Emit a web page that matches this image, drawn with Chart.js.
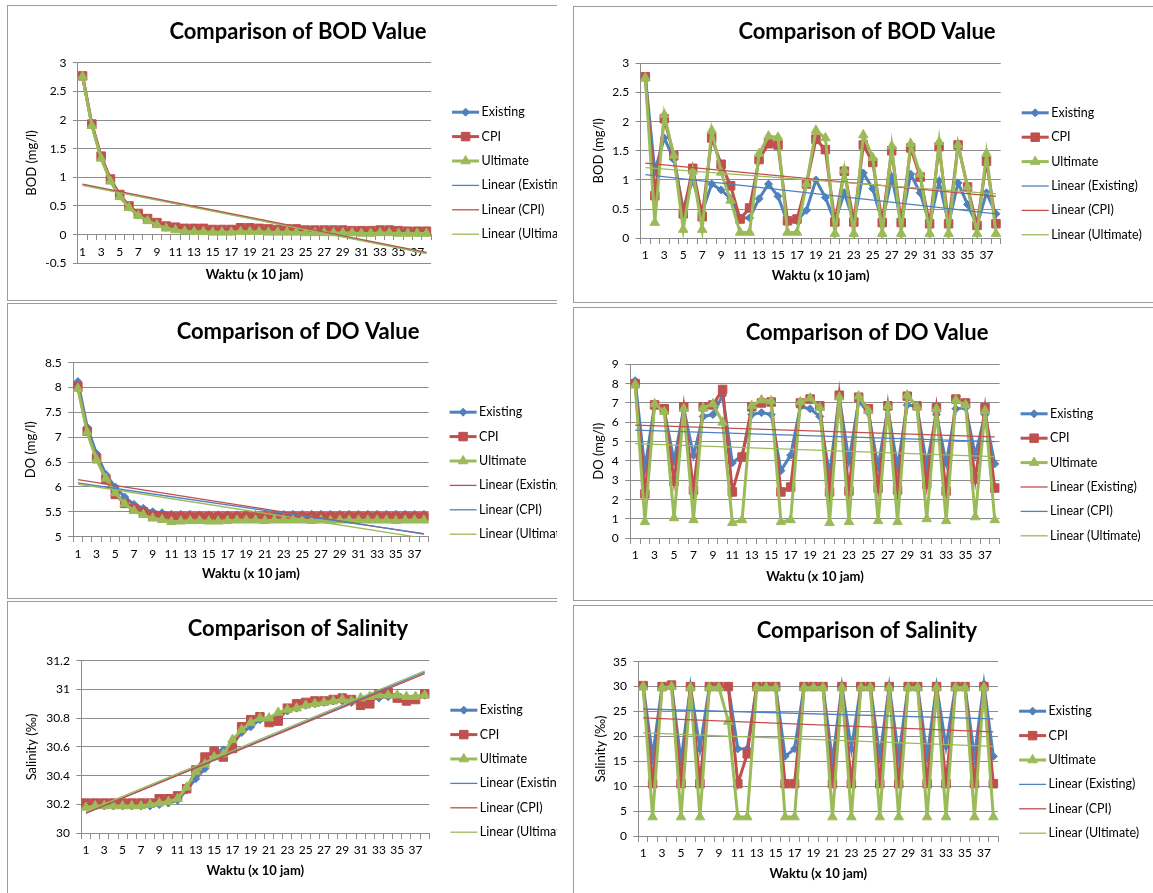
<!DOCTYPE html>
<html lang="en">
<head>
<meta charset="UTF-8">
<title>Comparison of BOD, DO and Salinity</title>
<script src="https://cdn.jsdelivr.net/npm/chart.js"></script>
<style>
  html, body { margin: 0; padding: 0; background: #fff; width: 1153px; height: 893px; overflow: hidden; }
  .panel { position: absolute; overflow: hidden; border: 1px solid #9c9c9c; border-right: none; }
  .panel canvas { position: absolute; left: 0; top: 0; }
  #p1 { left: 7px; top: 5px; width: 549px; height: 294px; }
  #p2 { left: 573px; top: 6px; width: 579px; height: 295px; }
  #p3 { left: 7px; top: 303px; width: 549px; height: 294px; }
  #p4 { left: 573px; top: 307px; width: 579px; height: 292px; }
  #p5 { left: 7px; top: 601px; width: 549px; height: 291px; border-bottom: none; }
  #p6 { left: 573px; top: 605px; width: 579px; height: 287px; border-bottom: none; }
</style>
</head>
<body>
  <div class="panel" id="p1"><canvas id="c1"></canvas></div>
  <div class="panel" id="p2"><canvas id="c2"></canvas></div>
  <div class="panel" id="p3"><canvas id="c3"></canvas></div>
  <div class="panel" id="p4"><canvas id="c4"></canvas></div>
  <div class="panel" id="p5"><canvas id="c5"></canvas></div>
  <div class="panel" id="p6"><canvas id="c6"></canvas></div>

<script>
// time steps (x 10 jam)
const waktu = ['1','2','3','4','5','6','7','8','9','10','11','12','13','14','15','16','17','18','19',
  '20','21','22','23','24','25','26','27','28','29','30','31','32','33','34','35','36','37','38'];

// BOD, left chart
const bodAExisting = [2.77,1.92,1.35,0.95,0.68,0.48,0.35,0.26,0.19,0.13,0.10,0.08,0.07,0.07,0.06,0.06,0.06,0.07,0.07,0.07,0.06,0.06,0.06,0.06,0.05,0.05,0.05,0.05,0.05,0.05,0.04,0.04,0.05,0.05,0.04,0.04,0.04,0.04];
const bodACPI = [2.77,1.93,1.37,0.97,0.70,0.50,0.37,0.28,0.21,0.15,0.13,0.11,0.11,0.11,0.09,0.09,0.09,0.12,0.12,0.11,0.10,0.09,0.10,0.10,0.08,0.08,0.08,0.08,0.08,0.07,0.07,0.07,0.08,0.08,0.07,0.06,0.06,0.06];
const bodAUltimate = [2.76,1.90,1.33,0.93,0.66,0.47,0.33,0.24,0.17,0.11,0.08,0.06,0.05,0.05,0.04,0.04,0.04,0.05,0.05,0.05,0.04,0.04,0.04,0.04,0.03,0.03,0.03,0.03,0.03,0.03,0.02,0.02,0.03,0.03,0.02,0.02,0.02,0.02];
const bodATrendExisting = [0.87, -0.32];
const bodATrendCPI = [0.88, -0.31];
const bodATrendUltimate = [0.86, -0.33];

// BOD, right chart
const bodBExisting = [2.77,1.15,1.72,1.35,0.50,1.00,0.45,0.93,0.83,0.68,0.35,0.35,0.68,0.93,0.72,0.27,0.30,0.48,1.00,0.70,0.28,0.78,0.28,1.12,0.85,0.28,1.05,0.27,1.10,0.78,0.25,0.98,0.25,0.95,0.58,0.22,0.78,0.42];
const bodBCPI = [2.77,0.73,2.05,1.42,0.42,1.20,0.37,1.72,1.27,0.90,0.33,0.52,1.35,1.62,1.60,0.30,0.33,0.93,1.70,1.52,0.28,1.15,0.28,1.60,1.30,0.27,1.50,0.27,1.55,1.05,0.25,1.57,0.25,1.60,0.88,0.22,1.32,0.25];
const bodBUltimate = [2.75,0.27,2.12,1.42,0.15,1.15,0.15,1.85,1.13,0.65,0.10,0.10,1.45,1.75,1.73,0.10,0.10,0.93,1.85,1.72,0.08,1.17,0.08,1.77,1.38,0.08,1.58,0.08,1.62,1.10,0.08,1.65,0.08,1.60,0.88,0.08,1.45,0.08];
const bodBTrendExisting = [1.09, 0.42];
const bodBTrendCPI = [1.29, 0.72];
const bodBTrendUltimate = [1.21, 0.76];

// DO, left chart
const doAExisting = [8.12,7.20,6.67,6.25,6.00,5.80,5.65,5.57,5.50,5.48,5.45,5.45,5.45,5.44,5.44,5.44,5.44,5.44,5.45,5.45,5.45,5.45,5.45,5.45,5.45,5.45,5.45,5.45,5.45,5.45,5.45,5.45,5.45,5.45,5.45,5.45,5.45,5.45];
const doACPI = [8.02,7.12,6.57,6.15,5.85,5.67,5.57,5.50,5.43,5.42,5.40,5.40,5.40,5.40,5.40,5.40,5.40,5.40,5.40,5.40,5.40,5.40,5.40,5.40,5.40,5.40,5.40,5.40,5.40,5.40,5.40,5.40,5.40,5.40,5.40,5.40,5.40,5.40];
const doAUltimate = [7.98,7.10,6.55,6.17,5.88,5.66,5.52,5.44,5.37,5.34,5.30,5.31,5.32,5.32,5.31,5.31,5.32,5.33,5.33,5.33,5.32,5.33,5.33,5.33,5.33,5.32,5.33,5.32,5.33,5.33,5.33,5.33,5.33,5.33,5.32,5.33,5.33,5.33];
const doATrendExisting = [6.15, 5.05];
const doATrendCPI = [6.08, 5.06];
const doATrendUltimate = [6.06, 4.97];

// DO, right chart
const doBExisting = [8.15,3.6,6.9,6.6,4.0,6.7,4.3,6.3,6.4,7.4,3.9,4.3,6.4,6.5,6.4,3.5,4.3,6.8,6.7,6.3,3.3,7.3,4.0,7.1,6.5,3.7,6.7,3.7,6.9,6.8,3.8,6.4,3.9,6.7,6.75,4.3,6.4,3.85];
const doBCPI = [8.0,2.3,6.9,6.7,2.95,6.8,2.5,6.8,6.9,7.7,2.4,4.2,6.8,7.0,7.05,2.4,2.65,7.0,7.2,6.85,2.4,7.4,2.45,7.3,6.7,2.6,6.85,2.5,7.35,6.85,2.8,6.75,2.45,7.2,7.0,3.05,6.75,2.6];
const doBUltimate = [7.95,0.85,6.95,6.55,1.05,6.7,0.95,6.75,6.95,6.0,0.8,0.95,6.85,7.15,7.1,0.85,0.95,7.05,7.25,6.75,0.8,7.3,0.85,7.35,6.6,0.9,6.85,0.85,7.4,6.8,1.0,6.7,0.9,7.15,6.9,1.1,6.6,0.95];
const doBTrendExisting = [5.85, 5.25];
const doBTrendCPI = [5.6, 5.0];
const doBTrendUltimate = [4.9, 4.22];

// Salinity, left chart
const salAExisting = [30.19,30.19,30.19,30.19,30.19,30.19,30.19,30.19,30.20,30.21,30.23,30.30,30.38,30.45,30.55,30.58,30.62,30.70,30.74,30.79,30.80,30.82,30.85,30.87,30.89,30.90,30.91,30.92,30.92,30.91,30.93,30.94,30.94,30.95,30.95,30.95,30.95,30.96];
const salACPI = [30.21,30.21,30.21,30.21,30.21,30.21,30.21,30.21,30.24,30.24,30.26,30.31,30.44,30.53,30.57,30.53,30.59,30.74,30.79,30.81,30.77,30.78,30.87,30.90,30.91,30.92,30.92,30.93,30.94,30.93,30.89,30.90,30.97,30.98,30.94,30.92,30.93,30.97];
const salAUltimate = [30.18,30.19,30.19,30.19,30.19,30.19,30.19,30.20,30.21,30.22,30.24,30.32,30.43,30.48,30.53,30.55,30.65,30.72,30.77,30.80,30.80,30.84,30.86,30.87,30.89,30.90,30.91,30.92,30.93,30.92,30.94,30.95,30.96,30.96,30.96,30.95,30.95,30.96];
const salATrendExisting = [30.14, 31.12];
const salATrendCPI = [30.14, 31.11];
const salATrendUltimate = [30.15, 31.13];

// Salinity, right chart
const salBExisting = [30.2,16,30,30.3,15,30,17.5,30,30,30,17.5,17.5,30,30,30,16,17.5,30,30,30,15,30,17.5,30,30,16,30,16,30,30,16,30,18,30,30,16,30.5,16];
const salBCPI = [30.2,10.5,30,30.3,10.5,30,10.5,30,30,30,10.5,16.5,30,30,30,10.5,10.5,30,30,30,10.5,30,10.5,30,30,10.5,30,10.5,30,30,10.5,30,10.5,30,30,10.5,30,10.5];
const salBUltimate = [30,3.8,29.8,30,3.8,29.8,3.8,29.8,29.8,23,3.8,3.8,29.8,29.8,29.8,3.8,3.8,29.8,29.8,29.8,3.8,29.8,3.8,29.8,29.8,3.8,29.8,3.8,29.8,29.8,3.8,29.8,3.8,29.8,29.8,3.8,29.8,3.8];
const salBTrendExisting = [25.5, 23.5];
const salBTrendCPI = [23.7, 20.9];
const salBTrendUltimate = [20.7, 18.0];

const BLUE = '#4F81BD', RED = '#C0504D', GREEN = '#9BBB59';
const GRID = '#8c8c8c';
const FONT = 'Lato, "Open Sans", sans-serif';

// lay: canvas size, plot area left, right/bottom space, title paddings, axis title paddings
const panels = [
  { id: 'c1', title: 'Comparison of BOD Value', yTitle: 'BOD (mg/l)', min: -0.5, max: 3, step: 0.5, axisAt: 0,
    series: [bodAExisting, bodACPI, bodAUltimate],
    trends: [[bodATrendExisting, BLUE], [bodATrendCPI, RED], [bodATrendUltimate, GREEN]],
    lay: { w: 580, h: 294, left: 69.9, padR: 156.9, padB: 36.7, tTop: 13.1, tBot: 17.2, yPad: 16.3, xPad: 2.8 } },
  { id: 'c2', title: 'Comparison of BOD Value', yTitle: 'BOD (mg/l)', min: 0, max: 3, step: 0.5, axisAt: 0,
    series: [bodBExisting, bodBCPI, bodBUltimate],
    trends: [[bodBTrendExisting, BLUE], [bodBTrendCPI, RED], [bodBTrendUltimate, GREEN]],
    lay: { w: 586, h: 295, left: 66.6, padR: 159.3, padB: 63.7, tTop: 12.1, tBot: 17.8, yPad: 17.2, xPad: 0.5 } },
  { id: 'c3', title: 'Comparison of DO Value', yTitle: 'DO (mg/l)', min: 5, max: 8.5, step: 0.5, axisAt: 5,
    series: [doAExisting, doACPI, doAUltimate],
    trends: [[doATrendExisting, RED], [doATrendCPI, BLUE], [doATrendUltimate, GREEN]],
    lay: { w: 580, h: 294, left: 65.2, padR: 159.4, padB: 61.3, tTop: 14.5, tBot: 17.8, yPad: 14.6, xPad: 0 } },
  { id: 'c4', title: 'Comparison of DO Value', yTitle: 'DO (mg/l)', min: 0, max: 9, step: 1, axisAt: 0,
    series: [doBExisting, doBCPI, doBUltimate],
    trends: [[doBTrendExisting, RED], [doBTrendCPI, BLUE], [doBTrendUltimate, GREEN]],
    lay: { w: 586, h: 292, left: 56.3, padR: 160.4, padB: 61.7, tTop: 12.1, tBot: 17.8, yPad: 17.2, xPad: 1.2 } },
  { id: 'c5', title: 'Comparison of Salinity', yTitle: 'Salinity (‰)', min: 30, max: 31.2, step: 0.2, axisAt: 30,
    series: [salAExisting, salACPI, salAUltimate],
    trends: [[salATrendExisting, BLUE], [salATrendCPI, RED], [salATrendUltimate, GREEN]],
    lay: { w: 580, h: 291, left: 73.4, padR: 158.7, padB: 59.7, tTop: 14.1, tBot: 18.2, yPad: 16.3, xPad: 0.2 } },
  { id: 'c6', title: 'Comparison of Salinity', yTitle: 'Salinity (‰)', min: 0, max: 35, step: 5, axisAt: 0,
    series: [salBExisting, salBCPI, salBUltimate],
    trends: [[salBTrendExisting, BLUE], [salBTrendCPI, RED], [salBTrendUltimate, GREEN]],
    lay: { w: 586, h: 287, left: 64.4, padR: 161.9, padB: 57, tTop: 11.8, tBot: 17.5, yPad: 19, xPad: 1.1 } }
];

const seriesNames = ['Existing', 'CPI', 'Ultimate'];
const seriesColors = [BLUE, RED, GREEN];
const seriesPoints = [['rectRot', 4], ['rect', 6], ['triangle', 5.5]];

function drawMarker(ctx, style, x, y, r) {
  ctx.beginPath();
  if (style === 'rectRot') {
    ctx.moveTo(x - r, y); ctx.lineTo(x, y - r); ctx.lineTo(x + r, y); ctx.lineTo(x, y + r);
  } else if (style === 'rect') {
    const s = r * Math.SQRT1_2;
    ctx.rect(x - s, y - s, 2 * s, 2 * s);
  } else {
    for (let k = 0; k < 3; k++) {
      const a = k * 2 * Math.PI / 3;
      const px = x + Math.sin(a) * r, py = y - Math.cos(a) * r;
      if (k === 0) ctx.moveTo(px, py); else ctx.lineTo(px, py);
    }
  }
  ctx.closePath();
  ctx.fill();
  ctx.stroke();
}

// Excel-style legend: line sample with marker, to the right of the plot
const sideLegend = {
  id: 'sideLegend',
  afterDraw(chart) {
    const ctx = chart.ctx, area = chart.chartArea;
    chart.data.datasets.forEach((ds, k) => {
      const x = area.right + 21, y = area.top + 49.5 + k * 24.4;
      ctx.save();
      ctx.strokeStyle = ds.borderColor;
      ctx.lineWidth = ds.borderWidth;
      ctx.beginPath();
      ctx.moveTo(x, y);
      ctx.lineTo(x + 27, y);
      ctx.stroke();
      if (ds.pointRadius) {
        ctx.fillStyle = ds.pointBackgroundColor;
        ctx.lineWidth = 1;
        drawMarker(ctx, ds.pointStyle, x + 13.5, y, ds.pointRadius);
      }
      ctx.fillStyle = '#000';
      ctx.font = '12.5px ' + FONT;
      ctx.textBaseline = 'middle';
      ctx.fillText(ds.label, x + 29.5, y);
      ctx.restore();
    });
  }
};

// 3 -> "3", 2.5 -> "2.5", 31.0 -> "31"
const tickText = v => String(Math.round(v * 100) / 100);

function makeChart(p) {
  const L = p.lay;
  const canvas = document.getElementById(p.id);
  canvas.width = L.w;
  canvas.height = L.h;

  const datasets = p.series.map((vals, i) => ({
    label: seriesNames[i],
    data: vals,
    borderColor: seriesColors[i],
    backgroundColor: seriesColors[i],
    borderWidth: 3,
    pointStyle: seriesPoints[i][0],
    pointRadius: seriesPoints[i][1],
    pointBackgroundColor: seriesColors[i],
    pointBorderColor: seriesColors[i],
    pointBorderWidth: 1,
    tension: 0,
    order: 5 - i
  }));
  p.trends.forEach(([ends, color], i) => {
    datasets.push({
      label: 'Linear (' + seriesNames[i] + ')',
      data: [{ x: waktu[0], y: ends[0] }, { x: waktu[waktu.length - 1], y: ends[1] }],
      borderColor: color,
      backgroundColor: color,
      borderWidth: 1.3,
      pointRadius: 0,
      order: 2 - i
    });
  });

  new Chart(canvas, {
    type: 'line',
    data: { labels: waktu, datasets: datasets },
    plugins: [sideLegend],
    options: {
      responsive: false,
      animation: false,
      devicePixelRatio: 1,
      layout: { padding: { top: 0, left: 0, right: 0, bottom: L.padB } },
      plugins: {
        legend: { display: false },
        tooltip: { enabled: false },
        title: {
          display: true,
          text: p.title,
          color: '#000',
          font: { family: FONT, size: 22, weight: 'bold' },
          padding: { top: L.tTop, bottom: L.tBot }
        }
      },
      scales: {
        x: {
          axis: 'x',
          position: { y: p.axisAt },
          offset: true,
          grid: { offset: true, drawOnChartArea: false, drawTicks: true, tickLength: 5, color: GRID },
          border: { display: true, color: GRID, width: 1 },
          ticks: {
            autoSkip: false, maxRotation: 0, minRotation: 0, padding: 5, color: '#000',
            font: { family: FONT, size: 12 },
            callback: (v, i) => (i % 2 === 0 ? waktu[i] : '')
          },
          title: {
            display: true, text: 'Waktu (x 10 jam)', color: '#000',
            font: { family: FONT, size: 13, weight: 'bold' },
            padding: { top: L.xPad, bottom: 0 }
          }
        },
        y: {
          min: p.min, max: p.max,
          ticks: { stepSize: p.step, padding: 6.5, color: '#000', font: { family: FONT, size: 12 }, callback: tickText },
          grid: { color: GRID, tickLength: 5, drawTicks: true },
          border: { display: true, color: GRID, width: 1 },
          title: {
            display: true, text: p.yTitle, color: '#000',
            font: { family: FONT, size: 13 },
            padding: { top: L.yPad, bottom: 0 }
          },
          afterFit: s => { s.width = L.left; }
        },
        // empty right axis: keeps room for the legend without moving the title
        legendSpace: {
          axis: 'y',
          position: 'right',
          grid: { display: false, drawTicks: false },
          border: { display: false },
          ticks: { display: false },
          afterFit: s => { s.width = L.padR; }
        }
      }
    }
  });
}

panels.forEach(makeChart);
</script>
</body>
</html>
